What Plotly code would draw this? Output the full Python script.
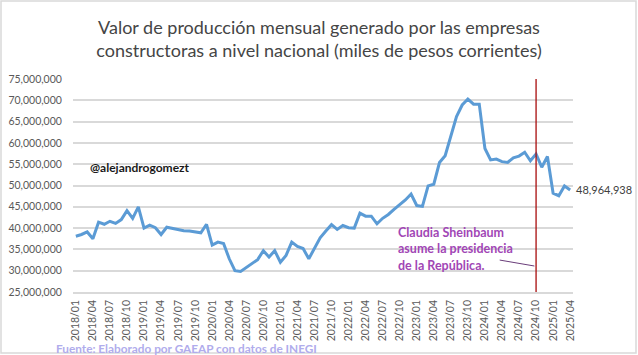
import plotly.graph_objects as go

years = [2018, 2019, 2020, 2021, 2022, 2023, 2024, 2025]
months = [f"{y}/{m:02d}" for y in years for m in range(1, 13)][:88]

# Values in millions of (thousand) pesos
values_m = [
    38.1, 38.5, 39.1, 37.5, 41.4, 40.9, 41.6, 41.1, 42.0, 44.1, 42.3, 45.0,
    40.0, 40.7, 40.1, 38.5, 40.2, 39.9, 39.6, 39.4, 39.3, 39.1, 38.9, 40.9,
    36.0, 36.7, 36.4, 32.8, 30.0, 29.8, 30.8, 31.8, 32.6, 34.7, 33.2, 34.7,
    32.0, 33.6, 36.7, 35.7, 35.2, 32.8, 35.3, 37.7, 39.3, 40.8, 39.7, 40.6,
    40.1, 40.0, 43.5, 42.8, 42.8, 41.0, 42.3, 43.2, 44.4, 45.4, 46.6, 48.0,
    45.3, 45.1, 49.9, 50.3, 55.4, 57.0, 61.9, 66.2, 68.9, 70.3, 69.1, 69.1,
    58.7, 56.0, 56.2, 55.6, 55.4, 56.5, 56.9, 57.8, 55.8, 57.4, 54.3, 56.8,
    48.2, 47.6, 49.9, 48.964938,
]
values = [v * 1e6 for v in values_m]
last_value = 48964938
tick_labels = months[::3]
event_month = "2024/10"

title_lines = ["Valor de producción mensual generado por las empresas",
               "constructoras a nivel nacional (miles de pesos corrientes)"]

W, H = 638, 355
ML, MR, MT, MB = 73, 65, 79, 63
PW, PH = W - ML - MR, H - MT - MB


def px_x(p):
    return (p - ML) / PW


def px_y(p):
    return (MT + PH - p) / PH


fig = go.Figure()
fig.add_trace(go.Scatter(
    x=months, y=values, mode="lines",
    line=dict(color="#5b9bd5", width=3),
    hoverinfo="skip", showlegend=False,
))

gray = "#595959"
fig.update_layout(
    width=W, height=H,
    margin=dict(l=ML, r=MR, t=MT, b=MB, autoexpand=False),
    paper_bgcolor="white", plot_bgcolor="white",
    font=dict(family="Lato", color=gray),
    title=dict(text="<br>".join(title_lines), x=0.5, xref="container",
               xanchor="center", y=1 - 34 / H, yref="container",
               yanchor="middle", font=dict(family="Lato", size=18, color="#454545")),
    xaxis=dict(type="category", range=[-0.5, len(months) - 0.5], automargin=False,
               tickmode="array", tickvals=tick_labels, ticktext=tick_labels,
               tickangle=-90, tickfont=dict(size=10.5, color=gray),
               showgrid=False, showline=True, linecolor="#d9d9d9", linewidth=1.5,
               ticks="outside", ticklen=2, tickcolor="rgba(0,0,0,0)"),
    yaxis=dict(range=[25e6, 75e6], dtick=5e6, tickformat=",d", automargin=False,
               tickfont=dict(size=10.5, color=gray),
               showgrid=True, gridcolor="#d9d9d9", gridwidth=1.5,
               zeroline=False, ticks="outside", ticklen=8, tickcolor="rgba(0,0,0,0)"),
)

# vertical event line
fig.add_shape(type="line", xref="x", yref="paper", x0=event_month, x1=event_month,
              y0=0, y1=1, line=dict(color="#a80c0c", width=1.3))

# connector from annotation to event line
ev_idx = months.index(event_month)
fig.add_shape(type="line", xref="x", yref="y", x0=ev_idx - 6.4, x1=ev_idx - 0.3,
              y0=32.5e6, y1=31.1e6, line=dict(color="#6a3d7a", width=1))

# chart border
fig.add_shape(type="rect", xref="paper", yref="paper",
              x0=px_x(1), x1=px_x(636), y0=px_y(353), y1=px_y(1),
              line=dict(color="#d9d9d9", width=1.5), layer="below")

fig.add_annotation(x=months[-1], y=last_value, xref="x", yref="y",
                   text=f"{last_value:,}", showarrow=False, xanchor="left",
                   xshift=4, font=dict(family="Lato", size=11, color="#404040"))

fig.add_annotation(x=px_x(88), y=px_y(167), xref="paper", yref="paper",
                   text="<b>@alejandrogomezt</b>", showarrow=False,
                   xanchor="left", yanchor="middle",
                   font=dict(family="Lato", size=12, color="#1a1a1a"))

fig.add_annotation(x=px_x(396), y=px_y(249), xref="paper", yref="paper",
                   text="<b>Claudia Sheinbaum<br>asume la presidencia<br>de la República.</b>",
                   showarrow=False, xanchor="left", yanchor="middle", align="left",
                   font=dict(family="Lato", size=12.5, color="#a146b5"))

fig.add_annotation(x=px_x(54), y=px_y(348), xref="paper", yref="paper",
                   text="<b>Fuente: Elaborado por GAEAP con datos de INEGI</b>",
                   showarrow=False, xanchor="left", yanchor="middle",
                   font=dict(family="Lato", size=11.8, color="#b0acec"))

fig.write_html("out.html", config={"displayModeBar": False},
               post_script="document.body.style.margin='0';document.body.style.overflow='hidden';")
